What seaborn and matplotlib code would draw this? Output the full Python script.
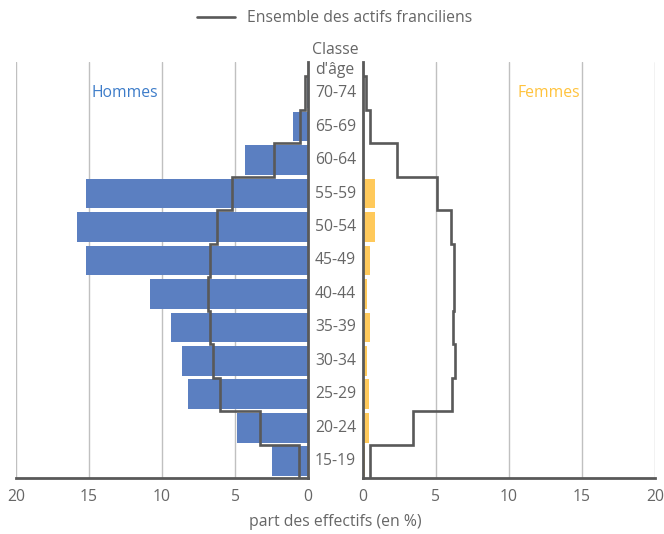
import numpy as np
import pandas as pd
import seaborn as sns
import matplotlib.pyplot as plt
from matplotlib.transforms import blended_transform_factory

# classes d'age, du haut vers le bas
ages = ["70-74", "65-69", "60-64", "55-59", "50-54", "45-49",
        "40-44", "35-39", "30-34", "25-29", "20-24", "15-19"]
hommes = [0.1, 1.0, 4.3, 15.2, 15.8, 15.2, 10.8, 9.4, 8.6, 8.2, 4.85, 2.45]
femmes = [0.0, 0.0, 0.1, 0.85, 0.8, 0.45, 0.3, 0.5, 0.3, 0.4, 0.4, 0.15]
ensemble_h = [0.2, 0.58, 2.3, 5.2, 6.25, 6.7, 6.85, 6.7, 6.5, 6.0, 3.3, 0.6]
ensemble_f = [0.2, 0.48, 2.3, 5.05, 6.05, 6.2, 6.2, 6.15, 6.3, 6.1, 3.4, 0.5]
ticks = [0, 5, 10, 15, 20]

BLUE = "#5b7fc1"
YELLOW = "#ffc95a"
LINE = "#595959"
GREY = "#666666"
FS = 11.3

sns.set_style("white")
plt.rcParams["font.family"] = ["Open Sans", "DejaVu Sans"]

fig = plt.figure(figsize=(6.64, 5.34), dpi=100)
axL = fig.add_axes([16 / 664, 1 - 478 / 534, 292 / 664, 416 / 534])
axR = fig.add_axes([363 / 664, 1 - 478 / 534, 292 / 664, 416 / 534])

df = pd.DataFrame({"age": ages, "hommes": hommes, "femmes": femmes})


def step_points(vals):
    pos = np.arange(len(vals))
    xs = np.concatenate([[0], np.repeat(vals, 2)])
    ys = np.concatenate([[-0.5], np.ravel(np.column_stack([pos - 0.5, pos + 0.5]))])
    return xs, ys


for ax, col, color, ens in [(axL, "hommes", BLUE, ensemble_h),
                            (axR, "femmes", YELLOW, ensemble_f)]:
    sns.barplot(data=df, x=col, y="age", order=ages, orient="y", color=color,
                saturation=1, width=0.89, edgecolor="none", ax=ax, zorder=2)
    xs, ys = step_points(ens)
    ax.plot(xs, ys, color=LINE, lw=1.9, zorder=3, solid_joinstyle="miter",
            label="Ensemble des actifs franciliens")
    ax.set_ylim(len(ages) - 0.5, -0.93)
    ax.set_xticks(ticks)
    ax.set_yticks([])
    ax.set_xlabel("")
    ax.set_ylabel("")
    ax.grid(axis="x", color="#c0c0c0", lw=1, zorder=0)
    ax.tick_params(axis="x", length=0, pad=8, labelsize=FS, labelcolor=GREY)
    for s in ["top", "left", "right", "bottom"]:
        ax.spines[s].set_visible(False)
    ax.spines["bottom"].set_visible(True)
    ax.spines["bottom"].set_color(LINE)
    ax.spines["bottom"].set_linewidth(2)
    ax.set_axisbelow(True)

axL.set_xlim(20, 0)
axR.set_xlim(0, 20)
axL.spines["right"].set_visible(True)
axL.spines["right"].set_color(LINE)
axL.spines["right"].set_linewidth(2)
axR.spines["left"].set_visible(True)
axR.spines["left"].set_color(LINE)
axR.spines["left"].set_linewidth(2)

# libelles des classes au centre
tr = blended_transform_factory(axR.transAxes, axR.transData)
for i, a in enumerate(ages):
    axR.text(-27.5 / 292, i, a, transform=tr, ha="center", va="center",
             fontsize=FS, color=GREY)
fig.text(335 / 664, 1 - 60 / 534, "Classe\nd'âge", ha="center", va="center",
         fontsize=FS, color=GREY, linespacing=1.25)

axL.text(12.55, 0, "Hommes", ha="center", va="center", fontsize=FS, color="#3d7cc9")
axR.text(12.7, 0, "Femmes", ha="center", va="center", fontsize=FS, color="#ffc33d")

fig.text(335 / 664, 1 - 522 / 534, "part des effectifs (en %)", ha="center",
         va="center", fontsize=FS, color=GREY)

handles, labels = axL.get_legend_handles_labels()
fig.legend(handles, labels, loc="center", bbox_to_anchor=(335 / 664, 1 - 18 / 534),
           frameon=False, fontsize=FS, labelcolor=GREY, handlelength=2.4,
           handletextpad=0.8)

fig.savefig("out.png", dpi=100)
